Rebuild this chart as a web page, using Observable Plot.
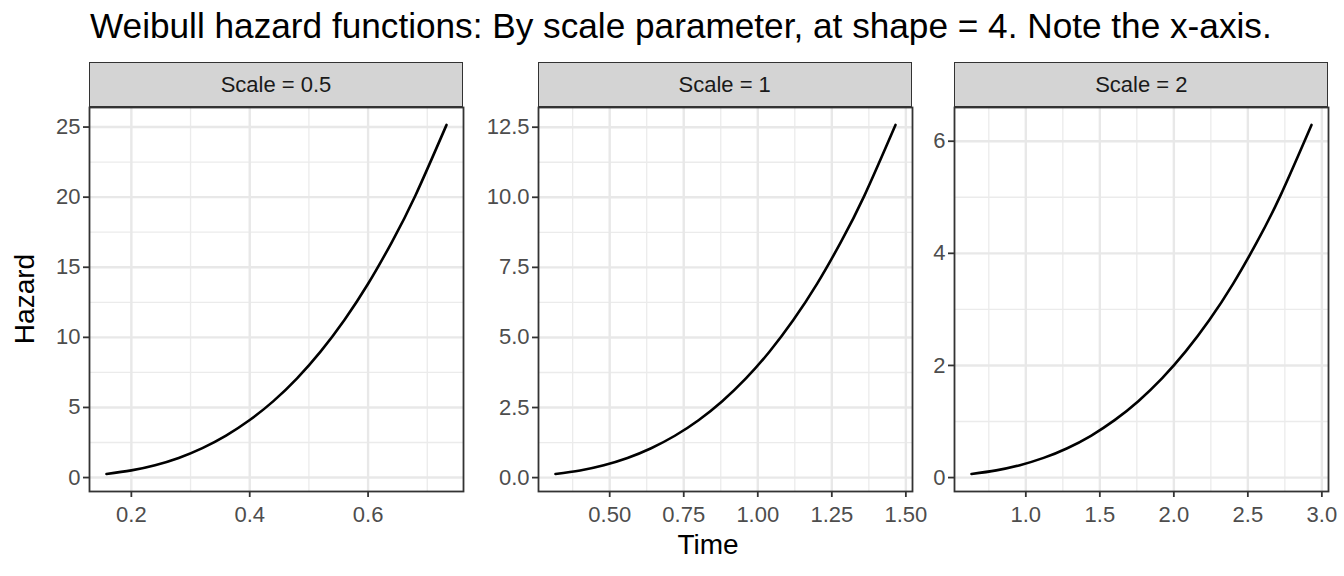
<!DOCTYPE html>
<html>
<head>
<meta charset="utf-8">
<script src="https://cdn.jsdelivr.net/npm/d3@7"></script>
<script src="https://cdn.jsdelivr.net/npm/@observablehq/plot@0.6"></script>
<style>
  html, body { margin: 0; padding: 0; background: white; }
  #chart { position: relative; width: 1344px; height: 576px; font-family: "Liberation Sans", Arial, sans-serif; overflow: hidden; }
  .title { position: absolute; left: 90px; top: 5px; font-size: 35.2px; color: #000; white-space: nowrap; line-height: 42px; }
  .strip { position: absolute; top: 62px; height: 45px; width: 374px; box-sizing: border-box; background: #d4d4d4; border: 1.8px solid #333; color: #1a1a1a; font-size: 22px; display: flex; align-items: center; justify-content: center; }
  .panel { position: absolute; top: 105px; width: 456px; }
  .panel svg { max-width: none !important; }
  .ylab { position: absolute; left: 25px; top: 299px; font-size: 28px; transform: translate(-50%, -50%) rotate(-90deg); white-space: nowrap; }
  .xlab { position: absolute; left: 708px; top: 529px; font-size: 28px; transform: translateX(-50%); white-space: nowrap; }
</style>
</head>
<body>
<div id="chart"></div>
<script>
// Facet labels
const facets = ["Scale = 0.5", "Scale = 1", "Scale = 2"];

// Scale = 0.5 (shape = 4)
const time05   = [0.158, 0.20, 0.24, 0.28, 0.32, 0.36, 0.40, 0.44, 0.48, 0.52, 0.56, 0.60, 0.64, 0.68, 0.7325];
const hazard05 = [0.25, 0.51, 0.88, 1.40, 2.10, 2.99, 4.10, 5.45, 7.08, 9.00, 11.24, 13.82, 16.78, 20.12, 25.15];

// Scale = 1
const time1   = [0.317, 0.40, 0.48, 0.56, 0.64, 0.72, 0.80, 0.88, 0.96, 1.04, 1.12, 1.20, 1.28, 1.36, 1.465];
const hazard1 = [0.127, 0.256, 0.442, 0.702, 1.049, 1.493, 2.048, 2.726, 3.539, 4.499, 5.62, 6.91, 8.39, 10.06, 12.58];

// Scale = 2
const time2   = [0.633, 0.80, 0.96, 1.12, 1.28, 1.44, 1.60, 1.76, 1.92, 2.08, 2.24, 2.40, 2.56, 2.72, 2.93];
const hazard2 = [0.063, 0.128, 0.221, 0.351, 0.524, 0.746, 1.024, 1.363, 1.769, 2.250, 2.81, 3.456, 4.194, 5.03, 6.29];

// Tick values
const xTicks05 = [0.2, 0.4, 0.6],               xMinor05 = [0.3, 0.5, 0.7];
const yTicks05 = [0, 5, 10, 15, 20, 25],         yMinor05 = [2.5, 7.5, 12.5, 17.5, 22.5];
const xTicks1  = [0.5, 0.75, 1.0, 1.25, 1.5],    xMinor1  = [0.375, 0.625, 0.875, 1.125, 1.375];
const yTicks1  = [0, 2.5, 5, 7.5, 10, 12.5],     yMinor1  = [1.25, 3.75, 6.25, 8.75, 11.25];
const xTicks2  = [1.0, 1.5, 2.0, 2.5, 3.0],      xMinor2  = [0.75, 1.25, 1.75, 2.25, 2.75];
const yTicks2  = [0, 2, 4, 6],                   yMinor2  = [1, 3, 5];

const FONT = '"Liberation Sans", Arial, sans-serif';
const PW = 374, PH = 384, ML = 60, MR = 22, MT = 2, MB = 45;

function expand(arr) {
  const [a, b] = d3.extent(arr);
  const p = (b - a) * 0.05;
  return [a - p, b + p];
}

function panel(times, hazards, xT, xM, yT, yM, xFmt, yFmt) {
  const data = times.map((t, i) => ({time: t, hazard: hazards[i]}));
  return Plot.plot({
    width: ML + PW + MR, height: MT + PH + MB,
    marginLeft: ML, marginRight: MR, marginTop: MT, marginBottom: MB,
    x: {domain: expand(times)},
    y: {domain: expand(hazards)},
    style: {fontFamily: FONT, background: "none", overflow: "visible", maxWidth: "none"},
    marks: [
      Plot.gridX(xM, {stroke: "#ebebeb", strokeOpacity: 1, strokeWidth: 1.3}),
      Plot.gridY(yM, {stroke: "#ebebeb", strokeOpacity: 1, strokeWidth: 1.3}),
      Plot.gridX(xT, {stroke: "#e8e8e8", strokeOpacity: 1, strokeWidth: 2.4}),
      Plot.gridY(yT, {stroke: "#e8e8e8", strokeOpacity: 1, strokeWidth: 2.4}),
      Plot.line(data, {x: "time", y: "hazard", curve: "natural", stroke: "black", strokeWidth: 2.6}),
      Plot.frame({stroke: "#333", strokeWidth: 1.8}),
      Plot.axisX(xT, {tickSize: 6, tickPadding: 9, fontSize: 22, stroke: "#333", strokeWidth: 1.8, fill: "#4d4d4d", tickFormat: d3.format(xFmt), label: null}),
      Plot.axisY(yT, {tickSize: 6, tickPadding: 3, fontSize: 22, stroke: "#333", strokeWidth: 1.8, fill: "#4d4d4d", tickFormat: d3.format(yFmt), label: null})
    ]
  });
}

const chart = document.getElementById("chart");

const title = document.createElement("div");
title.className = "title";
title.textContent = "Weibull hazard functions: By scale parameter, at shape = 4. Note the x-axis.";
chart.appendChild(title);

const panels = [
  {left: 89,    fig: panel(time05, hazard05, xTicks05, xMinor05, yTicks05, yMinor05, ".1f", "d")},
  {left: 537.7, fig: panel(time1,  hazard1,  xTicks1,  xMinor1,  yTicks1,  yMinor1,  ".2f", ".1f")},
  {left: 954.3, fig: panel(time2,  hazard2,  xTicks2,  xMinor2,  yTicks2,  yMinor2,  ".1f", "d")}
];

panels.forEach((p, i) => {
  const wrap = document.createElement("div");
  wrap.className = "panel";
  wrap.style.left = (p.left - ML) + "px";
  wrap.appendChild(p.fig);
  chart.appendChild(wrap);
  const strip = document.createElement("div");
  strip.className = "strip";
  strip.style.left = p.left + "px";
  strip.textContent = facets[i];
  chart.appendChild(strip);
});

const ylab = document.createElement("div");
ylab.className = "ylab";
ylab.textContent = "Hazard";
chart.appendChild(ylab);

const xlab = document.createElement("div");
xlab.className = "xlab";
xlab.textContent = "Time";
chart.appendChild(xlab);
</script>
</body>
</html>
